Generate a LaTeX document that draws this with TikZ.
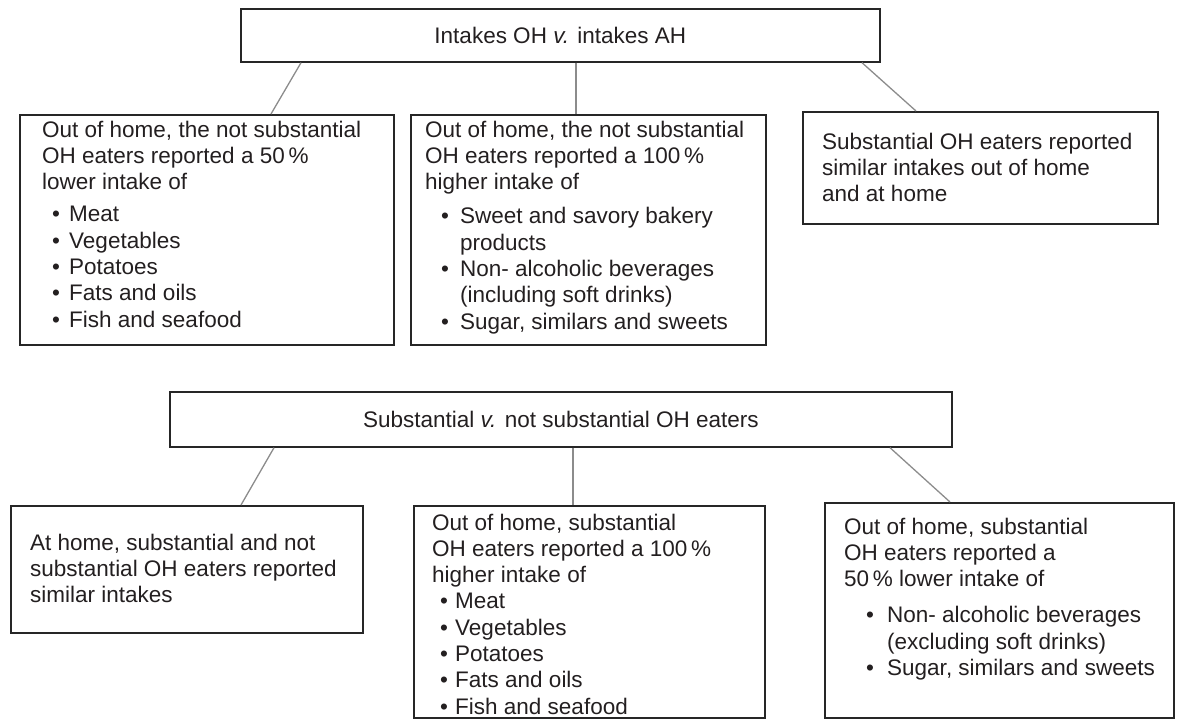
\documentclass[tikz,border=0pt]{standalone}
\usepackage{fontspec}
\setmainfont{Liberation Sans}
\usetikzlibrary{calc}
\definecolor{boxline}{HTML}{262626}
\definecolor{connline}{HTML}{8C8C8C}
\definecolor{txtcol}{HTML}{231F20}
\newcommand\bul[2]{\makebox[#2][l]{\hspace*{#1}\textbullet}}
\newcommand\cnt[1]{\hspace*{#1}}
\begin{document}
\begin{tikzpicture}[x=1pt,y=-1pt,
  box/.style={draw=boxline, line width=1.7pt, text=txtcol, inner sep=0pt, anchor=north west,
    font=\fontsize{22.5}{26.3}\selectfont},
  txt/.style={text=txtcol, inner sep=0pt, anchor=base west, font=\fontsize{22.5}{26.3}\selectfont},
  conn/.style={draw=connline, line width=1.3pt}]
\useasboundingbox (0,0) rectangle (1177,720);

% headers
\node[box, minimum width=639pt, minimum height=53pt] (T1) at (240,8) {Intakes OH \textit{v.} intakes AH};
\node[box, minimum width=782pt, minimum height=55pt] (T2) at (169,391) {Substantial \textit{v.} not substantial OH eaters};

% top row boxes
\node[box, minimum width=374pt, minimum height=230pt] (B1) at (19,114) {};
\node[box, minimum width=355pt, minimum height=230pt] (B2) at (410,114) {};
\node[box, minimum width=355pt, minimum height=112pt] (B3) at (802,111) {};

% bottom row boxes
\node[box, minimum width=352pt, minimum height=127pt] (B4) at (10,505) {};
\node[box, minimum width=351pt, minimum height=212pt] (B5) at (413,505) {};
\node[box, minimum width=349pt, minimum height=215pt] (B6) at (824,502) {};

% texts
\node[txt] (B1t) at ($(B1.north west)+(23,23)$) {\begin{tabular}[t]{@{}l@{}}
Out of home, the not substantial\\
OH eaters reported a 50\,\%\\
lower intake of\\[6pt]
\bul{10pt}{27pt}Meat\\
\bul{10pt}{27pt}Vegetables\\
\bul{10pt}{27pt}Potatoes\\
\bul{10pt}{27pt}Fats and oils\\
\bul{10pt}{27pt}Fish and seafood
\end{tabular}};

\node[txt] (B2t) at ($(B2.north west)+(15,23)$) {\begin{tabular}[t]{@{}l@{}}
Out of home, the not substantial\\
OH eaters reported a 100\,\%\\
higher intake of\\[8pt]
\bul{16pt}{35pt}Sweet and savory bakery\\
\cnt{35pt}products\\
\bul{16pt}{35pt}Non- alcoholic beverages\\
\cnt{35pt}(including soft drinks)\\
\bul{16pt}{35pt}Sugar, similars and sweets
\end{tabular}};

\node[txt] (B3t) at ($(B3.north west)+(20,38)$) {\begin{tabular}[t]{@{}l@{}}
Substantial OH eaters reported\\
similar intakes out of home\\
and at home
\end{tabular}};

\node[txt] (B4t) at ($(B4.north west)+(20,45)$) {\begin{tabular}[t]{@{}l@{}}
At home, substantial and not\\
substantial OH eaters reported\\
similar intakes
\end{tabular}};

\node[txt] (B5t) at ($(B5.north west)+(19,25)$) {\begin{tabular}[t]{@{}l@{}}
Out of home, substantial\\
OH eaters reported a 100\,\%\\
higher intake of\\
\bul{8pt}{23pt}Meat\\
\bul{8pt}{23pt}Vegetables\\
\bul{8pt}{23pt}Potatoes\\
\bul{8pt}{23pt}Fats and oils\\
\bul{8pt}{23pt}Fish and seafood
\end{tabular}};

\node[txt] (B6t) at ($(B6.north west)+(20,32)$) {\begin{tabular}[t]{@{}l@{}}
Out of home, substantial\\
OH eaters reported a\\
50\,\% lower intake of\\[10pt]
\bul{22pt}{43pt}Non- alcoholic beverages\\
\cnt{43pt}(excluding soft drinks)\\
\bul{22pt}{43pt}Sugar, similars and sweets
\end{tabular}};

% connectors
\draw[conn] ($(T1.south west)+(61,0)$) -- ($(B1.north west)+(252,0)$);
\draw[conn] ($(T1.south west)+(336,0)$) -- ($(B2.north west)+(166,0)$);
\draw[conn] ($(T1.south west)+(622,0)$) -- ($(B3.north west)+(114,0)$);
\draw[conn] ($(T2.south west)+(105,0)$) -- ($(B4.north west)+(231,0)$);
\draw[conn] ($(T2.south west)+(404,0)$) -- ($(B5.north west)+(160,0)$);
\draw[conn] ($(T2.south west)+(721,0)$) -- ($(B6.north west)+(126,0)$);
\end{tikzpicture}
\end{document}
